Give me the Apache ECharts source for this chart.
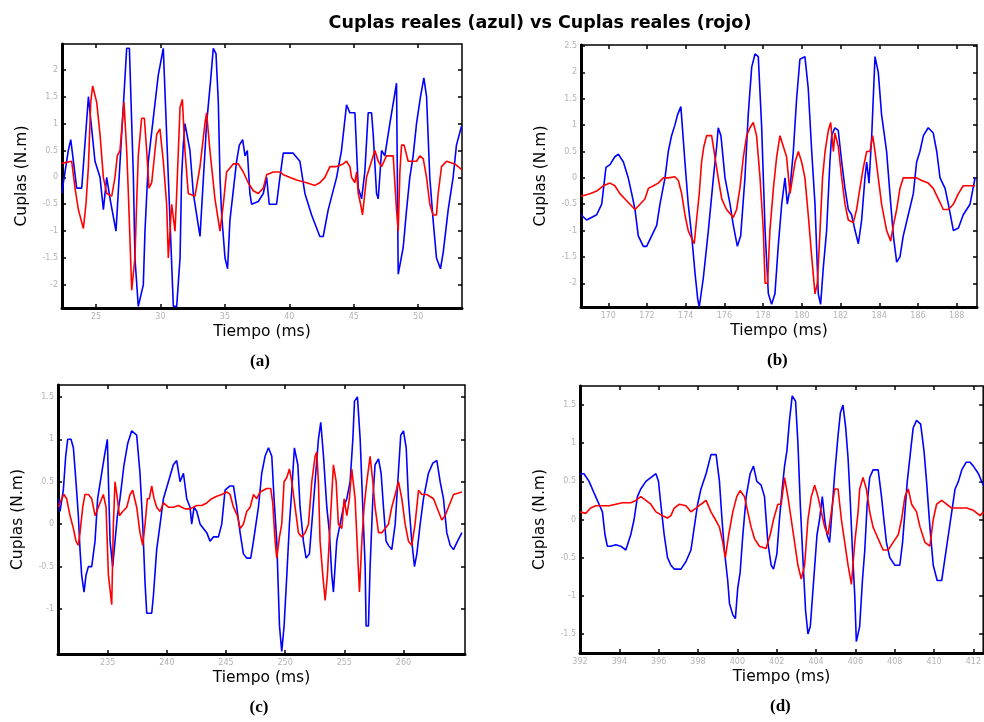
<!DOCTYPE html>
<html>
<head>
<meta charset="utf-8">
<script src="https://cdn.jsdelivr.net/npm/echarts@6/dist/echarts.min.js"></script>
<style>
html, body { margin: 0; padding: 0; background: #fff; }
#chart { width: 984px; height: 722px; }
</style>
</head>
<body>
<div id="chart"></div>
<script>
// valores: [tiempo (ms), cupla (N.m)]
var blueA = [[22.34,-0.3],[22.85,0.5],[23.04,0.7],[23.5,-0.2],[23.89,-0.2],[24.41,1.5],[24.92,0.3],[25.31,0],[25.57,-0.6],[25.83,0],[26.09,-0.4],[26.55,-1.0],[27.38,2.4],[27.59,2.4],[27.9,0],[28.02,-1.5],[28.28,-2.4],[28.67,-2.0],[28.8,-1.0],[29.06,0.3],[29.83,1.9],[30.22,2.4],[30.61,0],[31.0,-2.4],[31.26,-2.4],[31.52,-1.5],[31.64,0],[31.77,0.6],[31.9,1.0],[32.29,0.5],[32.55,-0.3],[33.07,-1.1],[33.58,1.0],[33.89,1.8],[34.1,2.4],[34.31,2.3],[34.49,1.4],[34.62,0],[34.75,-0.7],[35.01,-1.5],[35.21,-1.7],[35.39,-0.8],[35.91,0.3],[36.12,0.6],[36.38,0.7],[36.56,0.4],[36.74,0.5],[36.94,-0.3],[37.07,-0.5],[37.59,-0.45],[37.98,-0.3],[38.24,0],[38.44,-0.5],[39.01,-0.5],[39.27,0],[39.53,0.45],[40.3,0.45],[40.82,0.3],[41.21,-0.3],[41.73,-0.7],[42.37,-1.1],[42.63,-1.1],[43.02,-0.6],[43.67,0],[44.05,0.5],[44.44,1.35],[44.7,1.2],[45.09,1.2],[45.22,0.5],[45.35,-0.2],[45.61,-0.4],[45.86,0.1],[46.12,1.2],[46.38,1.2],[46.51,0.8],[46.77,-0.3],[46.9,-0.4],[47.16,0.5],[47.41,0.4],[47.8,1.0],[48.32,1.75],[48.45,-1.8],[48.84,-1.3],[49.1,-0.6],[49.35,0],[49.61,0.4],[49.87,1.0],[50.18,1.5],[50.44,1.85],[50.65,1.5],[50.9,0],[51.16,-0.8],[51.42,-1.5],[51.73,-1.7],[51.94,-1.4],[52.33,-0.6],[52.71,0],[52.97,0.6],[53.36,0.95]];
var redA = [[22.34,0.26],[23.11,0.3],[23.37,-0.2],[23.63,-0.6],[24.02,-0.95],[24.22,-0.5],[24.41,0.2],[24.59,1.4],[24.74,1.7],[25.05,1.4],[25.31,0.8],[25.57,0],[25.83,-0.3],[26.22,-0.35],[26.47,0],[26.65,0.4],[26.86,0.5],[27.17,1.4],[27.38,0.5],[27.51,-0.3],[27.77,-2.1],[28.02,-1.5],[28.15,-0.5],[28.28,0.4],[28.54,1.1],[28.75,1.1],[28.93,0.5],[29.11,-0.2],[29.32,-0.1],[29.58,0.5],[29.71,0.8],[29.96,0.9],[30.22,0.3],[30.48,-0.5],[30.61,-1.5],[30.87,-0.5],[31.13,-1.0],[31.26,-0.3],[31.52,1.3],[31.7,1.45],[31.9,0.5],[32.16,-0.3],[32.68,-0.35],[33.07,0.2],[33.45,1.0],[33.58,1.2],[33.84,0.5],[34.23,-0.4],[34.62,-1.0],[34.88,-0.5],[35.13,0.1],[35.65,0.25],[36.04,0.25],[36.43,0.1],[36.81,-0.1],[37.2,-0.25],[37.59,-0.3],[37.98,-0.2],[38.24,0.05],[38.75,0.1],[39.27,0.1],[39.53,0.05],[40.56,-0.05],[41.34,-0.1],[41.99,-0.15],[42.37,-0.1],[42.76,0],[43.15,0.2],[43.67,0.2],[44.18,0.25],[44.44,0.3],[44.7,0.2],[44.83,0],[45.09,-0.1],[45.22,0.1],[45.35,-0.3],[45.53,-0.5],[45.68,-0.7],[45.99,0],[46.64,0.5],[46.9,0.3],[47.16,0.2],[47.54,0.4],[48.06,0.4],[48.32,-0.6],[48.45,-1.0],[48.58,0.1],[48.71,0.6],[48.91,0.6],[49.22,0.3],[49.87,0.3],[50.13,0.4],[50.39,0.35],[50.65,0],[50.9,-0.5],[51.16,-0.7],[51.42,-0.7],[51.55,-0.3],[51.81,0.2],[52.2,0.3],[52.84,0.25],[53.36,0.15]];
var blueB = [[168.59,-0.7],[168.88,-0.8],[169.4,-0.7],[169.66,-0.5],[169.88,0.2],[170.09,0.25],[170.34,0.4],[170.52,0.45],[170.78,0.3],[171.03,0],[171.21,-0.3],[171.38,-0.6],[171.55,-1.1],[171.81,-1.3],[171.98,-1.3],[172.24,-1.1],[172.5,-0.9],[172.67,-0.5],[172.93,0],[173.1,0.5],[173.27,0.8],[173.44,1.0],[173.58,1.2],[173.75,1.35],[173.96,0.3],[174.13,-0.5],[174.31,-1.1],[174.48,-1.8],[174.62,-2.3],[174.7,-2.45],[174.91,-1.9],[175.17,-1.0],[175.43,0],[175.6,0.6],[175.68,0.95],[175.82,0.8],[176.03,0],[176.29,-0.5],[176.46,-0.9],[176.67,-1.3],[176.84,-1.1],[177.06,0],[177.23,1.2],[177.41,2.1],[177.58,2.35],[177.75,2.3],[177.92,1.0],[178.1,-1.0],[178.27,-2.2],[178.44,-2.4],[178.61,-2.2],[178.78,-1.3],[178.96,-0.5],[179.13,0],[179.25,-0.5],[179.39,-0.2],[179.56,0.5],[179.73,1.5],[179.9,2.25],[180.16,2.3],[180.33,1.7],[180.51,0.5],[180.68,-0.5],[180.85,-2.2],[180.97,-2.4],[181.11,-1.7],[181.28,-1.0],[181.45,0.3],[181.54,0.8],[181.71,0.95],[181.88,0.9],[182.06,0.3],[182.23,-0.2],[182.4,-0.6],[182.57,-0.7],[182.75,-1.0],[182.92,-1.25],[183.09,-0.8],[183.26,0],[183.35,0.3],[183.47,-0.1],[183.61,0.8],[183.78,2.3],[183.95,2.0],[184.12,1.2],[184.38,0.5],[184.55,-0.3],[184.73,-1.1],[184.9,-1.6],[185.07,-1.5],[185.24,-1.1],[185.5,-0.7],[185.76,-0.3],[185.93,0.3],[186.1,0.5],[186.28,0.8],[186.53,0.95],[186.79,0.85],[186.97,0.5],[187.14,0],[187.4,-0.2],[187.57,-0.5],[187.83,-1.0],[188.09,-0.95],[188.34,-0.7],[188.69,-0.5],[188.95,0.0]];
var redB = [[168.59,-0.35],[169.05,-0.3],[169.4,-0.25],[169.74,-0.15],[170.09,-0.1],[170.34,-0.15],[170.6,-0.3],[170.86,-0.4],[171.12,-0.5],[171.38,-0.6],[171.64,-0.5],[171.89,-0.4],[172.07,-0.2],[172.33,-0.15],[172.58,-0.1],[172.84,0],[173.1,0],[173.44,0.02],[173.62,-0.05],[173.79,-0.3],[173.96,-0.7],[174.13,-1.0],[174.31,-1.15],[174.44,-1.25],[174.56,-0.8],[174.7,-0.3],[174.82,0.3],[174.94,0.6],[175.08,0.8],[175.34,0.8],[175.51,0.4],[175.68,0],[175.86,-0.4],[176.11,-0.6],[176.46,-0.75],[176.63,-0.6],[176.8,-0.2],[176.98,0.4],[177.15,0.8],[177.32,0.95],[177.49,1.05],[177.66,0.8],[177.84,0],[178.01,-1.0],[178.1,-2.0],[178.23,-2.0],[178.35,-1.0],[178.53,-0.2],[178.7,0.4],[178.87,0.8],[179.04,0.6],[179.21,0.4],[179.39,-0.3],[179.52,0.0],[179.65,0.3],[179.82,0.5],[179.99,0.3],[180.16,0],[180.33,-0.7],[180.51,-1.5],[180.68,-2.2],[180.8,-2.0],[180.94,-1.0],[181.07,0],[181.2,0.5],[181.37,0.9],[181.49,1.05],[181.63,0.5],[181.71,0.85],[181.88,0.6],[182.06,0],[182.23,-0.5],[182.4,-0.8],[182.66,-0.85],[182.83,-0.6],[183.0,-0.2],[183.18,0.2],[183.35,0.5],[183.52,0.5],[183.66,0.8],[183.78,0.5],[183.95,0],[184.12,-0.5],[184.38,-1.0],[184.59,-1.2],[184.73,-0.9],[184.9,-0.6],[185.07,-0.2],[185.24,0],[185.5,0],[185.93,0.0],[186.19,-0.05],[186.53,-0.1],[186.79,-0.2],[187.05,-0.4],[187.31,-0.6],[187.57,-0.6],[187.83,-0.5],[188.09,-0.3],[188.34,-0.15],[188.95,-0.15]];
var blueC = [[230.83,0.3],[230.97,0.15],[231.25,0.4],[231.45,0.8],[231.62,1.0],[231.9,1.0],[232.1,0.9],[232.32,0.5],[232.52,0.1],[232.66,-0.3],[232.8,-0.6],[233.0,-0.8],[233.17,-0.6],[233.37,-0.5],[233.65,-0.5],[233.93,-0.2],[234.15,0.3],[234.49,0.6],[234.72,0.8],[234.97,1.0],[235.2,-0.2],[235.42,-0.5],[235.62,-0.2],[235.82,0.1],[236.04,0.3],[236.38,0.7],[236.69,0.95],[237.03,1.1],[237.45,1.05],[237.73,0.6],[237.96,0.0],[238.16,-0.7],[238.3,-1.05],[238.72,-1.05],[238.86,-0.85],[239.14,-0.3],[239.43,0],[239.71,0.3],[240.13,0.5],[240.55,0.7],[240.83,0.75],[241.12,0.5],[241.4,0.6],[241.68,0.3],[241.96,0.2],[242.1,0.0],[242.3,0.2],[242.53,0.15],[242.81,0.0],[243.09,-0.05],[243.37,-0.1],[243.65,-0.2],[243.93,-0.15],[244.36,-0.15],[244.64,0.0],[244.92,0.4],[245.34,0.45],[245.63,0.45],[245.91,0.2],[246.19,-0.1],[246.47,-0.35],[246.75,-0.4],[247.09,-0.4],[247.32,-0.2],[247.74,0.2],[248.02,0.6],[248.3,0.8],[248.59,0.9],[248.87,0.8],[249.06,0.3],[249.29,-0.2],[249.52,-1.2],[249.71,-1.5],[249.91,-1.2],[250.14,-0.6],[250.36,0],[250.56,0.4],[250.78,0.9],[251.07,0.7],[251.26,0.2],[251.54,-0.2],[251.77,-0.4],[252.05,-0.35],[252.25,0],[252.53,0.5],[252.81,1.0],[253.01,1.2],[253.24,0.8],[253.52,0.2],[253.74,-0.1],[253.94,-0.6],[254.08,-0.8],[254.36,-0.2],[254.64,0.0],[254.93,0.2],[255.21,0.3],[255.49,0.5],[255.72,1.0],[255.86,1.45],[256.11,1.5],[256.34,1.0],[256.56,0.2],[256.76,-0.5],[256.84,-1.2],[257.04,-1.2],[257.18,-0.5],[257.41,0.3],[257.6,0.7],[257.89,0.77],[258.11,0.6],[258.31,0.2],[258.53,-0.2],[258.73,-0.25],[259.01,-0.3],[259.3,0.0],[259.52,0.5],[259.77,1.05],[260.0,1.1],[260.23,0.9],[260.42,0.3],[260.7,-0.2],[260.93,-0.5],[261.13,-0.35],[261.41,0.0],[261.69,0.3],[262.11,0.6],[262.48,0.72],[262.82,0.75],[263.1,0.5],[263.38,0.3],[263.66,-0.1],[263.95,-0.25],[264.23,-0.3],[264.57,-0.2],[264.94,-0.1]];
var redC = [[230.83,0.2],[231.11,0.3],[231.31,0.35],[231.53,0.3],[231.67,0.2],[231.82,0.1],[232.1,-0.05],[232.32,-0.2],[232.52,-0.25],[232.66,-0.1],[232.89,0.2],[233.08,0.35],[233.37,0.35],[233.65,0.3],[233.93,0.1],[234.07,0.1],[234.35,0.25],[234.63,0.35],[234.86,0.2],[235.06,-0.6],[235.2,-0.6],[235.34,-0.95],[235.48,0.0],[235.62,0.5],[235.82,0.3],[235.99,0.1],[236.27,0.15],[236.61,0.2],[236.89,0.35],[237.11,0.4],[237.45,0.2],[237.73,-0.1],[237.96,-0.25],[238.16,0.0],[238.35,0.3],[238.52,0.3],[238.72,0.45],[238.92,0.3],[239.14,0.2],[239.43,0.15],[239.71,0.25],[240.13,0.2],[240.55,0.2],[240.98,0.22],[241.26,0.2],[241.54,0.18],[241.96,0.18],[242.53,0.22],[242.95,0.22],[243.37,0.25],[243.79,0.3],[244.22,0.33],[244.64,0.35],[245.06,0.38],[245.34,0.35],[245.63,0.2],[245.96,0.1],[246.19,-0.05],[246.47,0.0],[246.75,0.15],[247.04,0.2],[247.32,0.35],[247.6,0.3],[247.88,0.38],[248.16,0.4],[248.44,0.42],[248.78,0.42],[248.95,0.25],[249.15,-0.2],[249.29,-0.4],[249.52,-0.15],[249.71,0.0],[249.91,0.5],[250.14,0.55],[250.36,0.65],[250.56,0.5],[250.84,0.2],[251.12,-0.1],[251.4,-0.15],[251.69,-0.1],[251.97,0.0],[252.25,0.5],[252.53,0.8],[252.67,0.85],[252.81,0.5],[252.95,-0.2],[253.18,-0.6],[253.38,-0.9],[253.57,-0.6],[253.8,0.0],[254.08,0.7],[254.31,0.5],[254.5,0.0],[254.79,-0.05],[254.98,0.3],[255.21,0.1],[255.43,0.3],[255.63,0.65],[255.91,0.3],[256.11,-0.3],[256.28,-0.8],[256.48,-0.2],[256.67,0.2],[256.9,0.5],[257.18,0.8],[257.41,0.5],[257.6,0.2],[257.89,-0.1],[258.17,-0.1],[258.45,-0.05],[258.73,0.0],[259.01,0.2],[259.3,0.35],[259.58,0.5],[259.86,0.3],[260.14,0.0],[260.42,-0.2],[260.7,-0.25],[260.98,0.0],[261.27,0.4],[261.55,0.35],[261.97,0.35],[262.54,0.3],[262.96,0.15],[263.24,0.05],[263.52,0.1],[263.8,0.2],[264.23,0.35],[264.94,0.38]];
var blueD = [[392.0,0.6],[392.2,0.6],[392.46,0.5],[392.71,0.35],[392.97,0.2],[393.14,0.1],[393.27,-0.2],[393.39,-0.35],[393.56,-0.35],[393.82,-0.33],[394.07,-0.35],[394.33,-0.4],[394.58,-0.2],[394.75,0.0],[394.92,0.3],[395.09,0.4],[395.35,0.5],[395.6,0.55],[395.86,0.6],[395.99,0.5],[396.11,0.2],[396.28,-0.2],[396.45,-0.5],[396.62,-0.6],[396.79,-0.65],[397.13,-0.65],[397.39,-0.55],[397.64,-0.4],[397.81,-0.1],[397.98,0.2],[398.15,0.4],[398.41,0.6],[398.66,0.85],[398.92,0.85],[399.09,0.5],[399.22,0.0],[399.34,-0.4],[399.51,-0.8],[399.6,-1.1],[399.77,-1.25],[399.9,-1.3],[400.02,-0.9],[400.14,-0.7],[400.28,-0.2],[400.45,0.3],[400.65,0.6],[400.82,0.7],[400.99,0.5],[401.21,0.45],[401.38,0.3],[401.55,-0.3],[401.72,-0.6],[401.84,-0.65],[402.01,-0.45],[402.14,0.0],[402.28,0.4],[402.4,0.7],[402.52,0.9],[402.65,1.3],[402.79,1.62],[402.96,1.55],[403.08,1.0],[403.2,0.2],[403.33,-0.5],[403.47,-1.2],[403.59,-1.5],[403.71,-1.4],[403.88,-0.8],[404.05,-0.2],[404.18,0.0],[404.32,0.3],[404.44,0.0],[404.56,-0.2],[404.69,-0.3],[404.78,0.0],[404.95,0.6],[405.12,1.1],[405.24,1.4],[405.37,1.5],[405.51,1.2],[405.63,0.8],[405.75,0.2],[405.85,-0.4],[405.97,-1.0],[406.05,-1.6],[406.22,-1.4],[406.36,-0.8],[406.48,-0.4],[406.6,0.2],[406.73,0.55],[406.9,0.65],[407.16,0.65],[407.33,0.3],[407.45,0.0],[407.58,-0.3],[407.75,-0.5],[408.01,-0.6],[408.26,-0.6],[408.4,-0.3],[408.52,0.1],[408.64,0.5],[408.81,0.9],[408.94,1.2],[409.11,1.3],[409.32,1.25],[409.49,0.9],[409.62,0.5],[409.79,-0.1],[409.96,-0.6],[410.16,-0.8],[410.39,-0.8],[410.56,-0.5],[410.73,-0.2],[410.9,0.1],[411.07,0.4],[411.24,0.5],[411.41,0.65],[411.63,0.75],[411.83,0.75],[412.0,0.7],[412.26,0.6],[412.5,0.45]];
var redD = [[392.0,0.1],[392.29,0.08],[392.54,0.15],[392.8,0.18],[393.14,0.18],[393.48,0.18],[393.82,0.2],[394.16,0.22],[394.58,0.22],[394.84,0.25],[395.09,0.3],[395.35,0.25],[395.6,0.2],[395.86,0.1],[396.2,0.05],[396.45,0.02],[396.62,0.05],[396.79,0.15],[397.05,0.2],[397.39,0.18],[397.64,0.1],[397.9,0.15],[398.15,0.2],[398.41,0.25],[398.66,0.1],[398.88,0.0],[399.09,-0.1],[399.26,-0.3],[399.39,-0.5],[399.56,-0.2],[399.77,0.1],[399.97,0.3],[400.14,0.38],[400.36,0.3],[400.53,0.1],[400.7,-0.1],[400.87,-0.25],[401.12,-0.35],[401.46,-0.38],[401.67,-0.2],[401.84,0.0],[402.06,0.2],[402.23,0.2],[402.4,0.55],[402.57,0.3],[402.74,0.0],[402.91,-0.3],[403.08,-0.6],[403.25,-0.78],[403.42,-0.6],[403.59,0.0],[403.76,0.3],[403.93,0.45],[404.1,0.3],[404.27,0.1],[404.44,-0.1],[404.61,-0.2],[404.78,0.1],[404.95,0.4],[405.12,0.4],[405.29,0.0],[405.46,-0.3],[405.63,-0.6],[405.8,-0.85],[405.97,-0.3],[406.14,0.1],[406.22,0.4],[406.39,0.55],[406.56,0.4],[406.73,0.1],[406.9,-0.1],[407.07,-0.2],[407.24,-0.3],[407.41,-0.4],[407.67,-0.4],[407.92,-0.3],[408.18,-0.2],[408.35,0.0],[408.52,0.3],[408.69,0.4],[408.86,0.2],[409.11,0.1],[409.29,-0.1],[409.54,-0.3],[409.79,-0.35],[409.96,0.0],[410.13,0.2],[410.39,0.25],[410.64,0.2],[410.9,0.15],[411.24,0.15],[411.66,0.15],[412.0,0.12],[412.34,0.05],[412.5,0.1]];

var ticksXA = [25, 30, 35, 40, 45, 50];
var ticksYA = [-2, -1.5, -1, -0.5, 0, 0.5, 1, 1.5, 2];
var ticksXB = [170, 172, 174, 176, 178, 180, 182, 184, 186, 188];
var ticksYB = [-2, -1.5, -1, -0.5, 0, 0.5, 1, 1.5, 2, 2.5];
var ticksXC = [235, 240, 245, 250, 255, 260];
var ticksYC = [-1, -0.5, 0, 0.5, 1, 1.5];
var ticksXD = [392, 394, 396, 398, 400, 402, 404, 406, 408, 410, 412];
var ticksYD = [-1.5, -1, -0.5, 0, 0.5, 1, 1.5];

var panels = [
    {grid: {left: 62, top: 44, width: 400, height: 264}, x: [22.36, 53.4], y: [-2.43, 2.48], tx: ticksXA, ty: ticksYA, blue: blueA, red: redA, letra: '(a)'},
    {grid: {left: 581, top: 45, width: 396, height: 262}, x: [168.59, 189.05], y: [-2.45, 2.52], tx: ticksXB, ty: ticksYB, blue: blueB, red: redB, letra: '(b)'},
    {grid: {left: 58, top: 385, width: 407, height: 269}, x: [230.8, 265.2], y: [-1.53, 1.64], tx: ticksXC, ty: ticksYC, blue: blueC, red: redC, letra: '(c)'},
    {grid: {left: 580, top: 386, width: 404, height: 267}, x: [392, 412.5], y: [-1.75, 1.75], tx: ticksXD, ty: ticksYD, blue: blueD, red: redD, letra: '(d)'}
];

var grids = [], xAxes = [], yAxes = [], series = [], graphics = [];
var fuenteEje = {fontFamily: 'DejaVu Sans', fontSize: 15.5, color: '#000'};

panels.forEach(function (p, i) {
    var g = p.grid;
    grids.push({left: g.left, top: g.top, width: g.width, height: g.height, show: true,
        borderColor: '#000', borderWidth: 1.5, backgroundColor: '#fff'});
    var tick = {show: true, inside: true, length: 4, lineStyle: {color: '#000', width: 1.5}};
    // eje inferior con etiquetas + eje superior solo con marcas
    xAxes.push({type: 'value', gridIndex: i, min: p.x[0], max: p.x[1], position: 'bottom',
        name: 'Tiempo (ms)', nameLocation: 'middle', nameGap: 16, nameTextStyle: fuenteEje,
        axisLine: {show: true, onZero: false, lineStyle: {color: '#000', width: 3}},
        axisTick: Object.assign({customValues: p.tx}, tick),
        axisLabel: {customValues: p.tx, color: '#b4b4b4', fontSize: 8, margin: 5, fontFamily: 'DejaVu Sans'},
        splitLine: {show: false}});
    xAxes.push({type: 'value', gridIndex: i, min: p.x[0], max: p.x[1], position: 'top',
        axisLine: {show: false, onZero: false}, axisTick: Object.assign({customValues: p.tx}, tick),
        axisLabel: {show: false}, splitLine: {show: false}});
    yAxes.push({type: 'value', gridIndex: i, min: p.y[0], max: p.y[1], position: 'left',
        name: 'Cuplas (N.m)', nameLocation: 'middle', nameGap: 32, nameTextStyle: fuenteEje,
        axisLine: {show: true, onZero: false, lineStyle: {color: '#000', width: 3}},
        axisTick: Object.assign({customValues: p.ty}, tick),
        axisLabel: {customValues: p.ty, color: '#b4b4b4', fontSize: 8, margin: 4, fontFamily: 'DejaVu Sans'},
        splitLine: {show: false}});
    yAxes.push({type: 'value', gridIndex: i, min: p.y[0], max: p.y[1], position: 'right',
        axisLine: {show: false, onZero: false}, axisTick: Object.assign({customValues: p.ty}, tick),
        axisLabel: {show: false}, splitLine: {show: false}});
    series.push({type: 'line', name: 'azul', xAxisIndex: i * 2, yAxisIndex: i * 2, data: p.blue,
        showSymbol: false, lineStyle: {color: '#0000ff', width: 1.6}, itemStyle: {color: '#0000ff'}, z: 2});
    series.push({type: 'line', name: 'rojo', xAxisIndex: i * 2, yAxisIndex: i * 2, data: p.red,
        showSymbol: false, lineStyle: {color: '#ff0000', width: 1.6}, itemStyle: {color: '#ff0000'}, z: 3});
    graphics.push({type: 'text', left: g.left + g.width / 2 - 12, top: g.top + g.height + 45,
        style: {text: p.letra, font: 'bold 17px "Liberation Serif", serif', fill: '#000'}});
});

var myChart = echarts.init(document.getElementById('chart'));
myChart.setOption({
    animation: false,
    title: {text: 'Cuplas reales (azul) vs Cuplas reales (rojo)', left: 535, top: 9, textAlign: 'center',
        textStyle: {fontFamily: 'DejaVu Sans', fontSize: 17.5, fontWeight: 'bold', color: '#000'}},
    grid: grids,
    xAxis: xAxes,
    yAxis: yAxes,
    series: series,
    graphic: graphics
});
</script>
</body>
</html>
